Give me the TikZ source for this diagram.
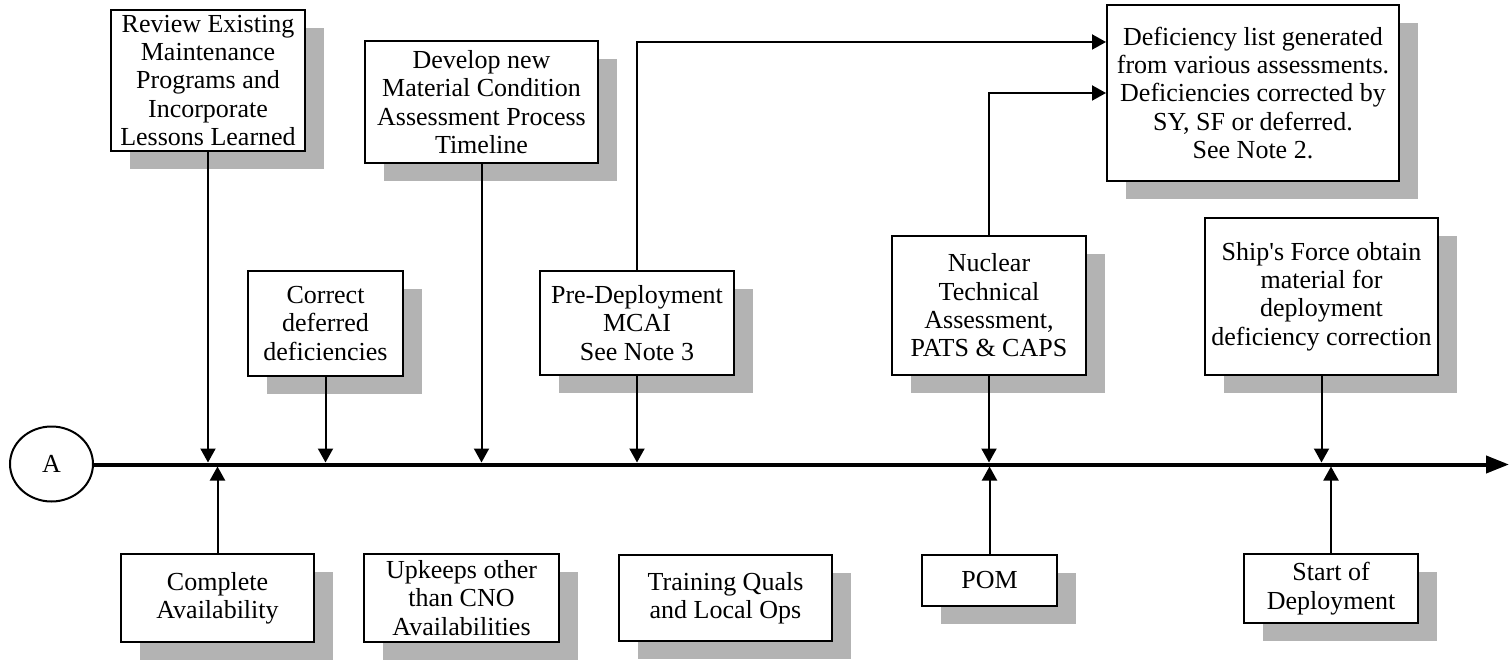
\documentclass[tikz,border=0pt]{standalone}
\usepackage{fontspec}
\setmainfont{Liberation Serif}
\usetikzlibrary{shadows,arrows.meta,shapes.geometric}
\definecolor{shadowgray}{RGB}{179,179,179}
\begin{document}
\begin{tikzpicture}[x=1pt,y=-1pt,
  box/.style={draw, line width=2.4pt, fill=white, align=center, inner sep=0pt,
    font=\fontsize{26}{28.3}\selectfont,
    general shadow={fill=shadowgray, shadow xshift=19pt, shadow yshift=-18pt}},
  conn/.style={line width=2pt, -{Triangle[length=14pt,width=15pt]}},
  timeline/.style={line width=4pt, -{Triangle[length=23pt,width=17pt]}}]
\useasboundingbox (0,0) rectangle (1509,663);

% upper boxes
\node[box, minimum width=193.6pt, minimum height=140.6pt] (review) at (208,80.5)
  {Review Existing\\Maintenance\\Programs and\\Incorporate\\Lessons Learned};
\node[box, minimum width=232.6pt, minimum height=121.6pt] (develop) at (481.5,102)
  {Develop new\\Material Condition\\Assessment Process\\Timeline};
\node[box, minimum width=154.6pt, minimum height=104.6pt] (correct) at (325.5,323.5)
  {Correct\\deferred\\deficiencies};
\node[box, minimum width=193.6pt, minimum height=103.6pt] (pre) at (637,323)
  {Pre-Deployment\\MCAI\\See Note 3};
\node[box, minimum width=193.6pt, minimum height=138.6pt] (nuclear) at (989,305.5)
  {Nuclear\\Technical\\Assessment,\\PATS \& CAPS};
\node[box, minimum width=291.6pt, minimum height=175.6pt] (defic) at (1253,93)
  {Deficiency list generated\\from various assessments.\\Deficiencies corrected by\\SY, SF or deferred.\\See Note 2.};
\node[box, minimum width=232.6pt, minimum height=156.6pt] (ships) at (1321.5,296.5)
  {Ship\textquotesingle s Force obtain\\material for\\deployment\\deficiency correction};

% lower boxes
\node[box, minimum width=192.6pt, minimum height=87.6pt] (complete) at (217.5,598)
  {Complete\\Availability};
\node[box, minimum width=194.6pt, minimum height=87.6pt] (upkeeps) at (461.5,598)
  {Upkeeps other\\than CNO\\Availabilities};
\node[box, minimum width=212.6pt, minimum height=85.6pt] (training) at (725.5,598)
  {Training Quals\\and Local Ops};
\node[box, minimum width=134.6pt, minimum height=50.6pt] (pom) at (989.5,580.5)
  {POM};
\node[box, minimum width=173.6pt, minimum height=68.6pt] (start) at (1331,588.5)
  {Start of\\Deployment};

% start circle and timeline
\node[draw, ellipse, line width=2pt, minimum width=83pt, minimum height=75pt, inner sep=0pt,
  font=\fontsize{26}{28.3}\selectfont] (A) at (51.5,464) {A};
\coordinate (tlend) at (1509,464.5);
\coordinate (tltop) at (0,462.5);
\coordinate (tlbot) at (0,466.5);
\draw[timeline] (A.east |- tlend) -- (tlend);

% connectors down onto the timeline
\draw[conn] (review.south) -- (review.south |- tltop);
\draw[conn] (develop.south) -- (develop.south |- tltop);
\draw[conn] (correct.south) -- (correct.south |- tltop);
\draw[conn] (pre.south) -- (pre.south |- tltop);
\draw[conn] (nuclear.south) -- (nuclear.south |- tltop);
\draw[conn] (ships.south) -- (ships.south |- tltop);

% connectors up onto the timeline
\draw[conn] (complete.north) -- (complete.north |- tlbot);
\draw[conn] (pom.north) -- (pom.north |- tlbot);
\draw[conn] (start.north) -- (start.north |- tlbot);

% connectors to the deficiency list
\draw[conn] (pre.north) |- ([yshift=51pt]defic.west);
\draw[conn] (nuclear.north) |- (defic.west);
\end{tikzpicture}
\end{document}
